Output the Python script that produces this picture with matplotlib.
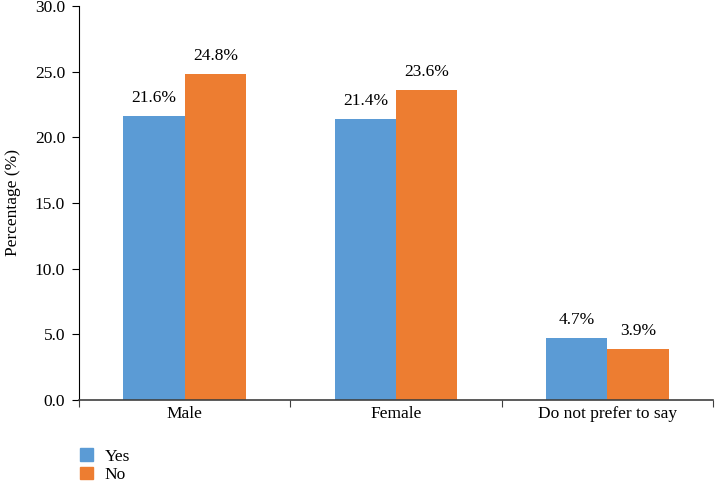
import matplotlib
matplotlib.use("Agg")
import matplotlib.pyplot as plt
import numpy as np
from matplotlib.patches import Patch

categories = ["Male", "Female", "Do not prefer to say"]
yes_values = [21.6, 21.4, 4.7]
no_values = [24.8, 23.6, 3.9]
series_names = ["Yes", "No"]
y_ticks = [0, 5, 10, 15, 20, 25, 30]

plt.rcParams['font.family'] = ['Liberation Serif', 'DejaVu Serif']
FS = 12.5
W, H = 715, 482
fig = plt.figure(figsize=(W/100, H/100), dpi=100)
ax = fig.add_axes([79/W, 1-400/H, (713-79)/W, (400-6)/H])

blue = "#5B9BD5"
orange = "#ED7D31"
x = np.arange(len(categories))
bw = 0.29
ax.bar(x - bw/2, yes_values, bw, color=blue)
ax.bar(x + bw/2, no_values, bw, color=orange)
for xi, v in zip(x, yes_values):
    ax.text(xi - bw/2, v + 0.75, f"{v:.1f}%", ha="center", va="bottom", fontsize=FS)
for xi, v in zip(x, no_values):
    ax.text(xi + bw/2, v + 0.75, f"{v:.1f}%", ha="center", va="bottom", fontsize=FS)

ax.set_xlim(-0.5, len(categories) - 0.5)
ax.set_ylim(0, 30)
ax.set_yticks(y_ticks)
ax.set_yticklabels([f"{t:.1f}" for t in y_ticks], fontsize=FS)
ax.set_xticks(np.arange(len(categories) + 1) - 0.5)
ax.set_xticklabels([])
ax.set_xticks(x, minor=True)
ax.set_xticklabels(categories, minor=True, fontsize=FS)
ax.tick_params(axis="x", which="minor", length=0, pad=4)
ax.tick_params(axis="x", which="major", length=5, direction="out", color="#404040")
ax.tick_params(axis="y", length=5, direction="out", pad=5)
ax.spines["top"].set_visible(False)
ax.spines["right"].set_visible(False)
ax.spines["bottom"].set_color("#404040")
ax.spines["bottom"].set_linewidth(1.2)
ax.set_ylabel("Percentage (%)", fontsize=FS, labelpad=10)

handles = [Patch(color=blue, label=series_names[0]), Patch(color=orange, label=series_names[1])]
fig.legend(handles=handles, loc="upper left", bbox_to_anchor=(77/W, 1-445/H), frameon=False,
           fontsize=FS, handlelength=0.7, handleheight=0.7, labelspacing=0.12, handletextpad=0.7,
           borderpad=0.2, borderaxespad=0.0)

fig.savefig("out.png", dpi=100)
